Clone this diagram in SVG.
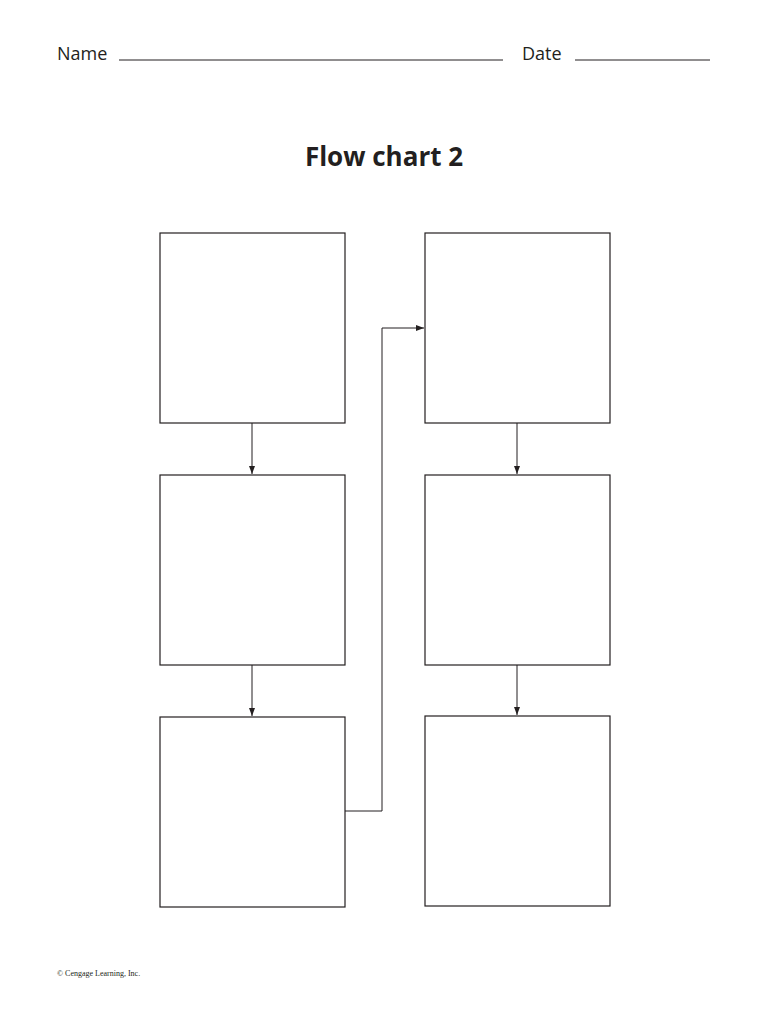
<svg xmlns="http://www.w3.org/2000/svg" width="768" height="1024" viewBox="0 0 768 1024">
<style>
.box{fill:#fff;stroke:#231f20;stroke-width:1.2}
.c{fill:none;stroke:#231f20;stroke-width:1}
.lab{font-family:"Open Sans","Liberation Sans",sans-serif;font-size:18px;fill:#231f20}
</style>
<defs><marker id="a" markerWidth="8" markerHeight="8" refX="8" refY="4" orient="auto" markerUnits="userSpaceOnUse"><path d="M0,1 L8,4 L0,7 Z" fill="#231f20"/></marker></defs>
<rect width="768" height="1024" fill="#fff"/>
<text class="lab" x="57" y="60">Name</text>
<line x1="119" y1="60" x2="503" y2="60" stroke="#231f20"/>
<text class="lab" x="522" y="60">Date</text>
<line x1="575" y1="60" x2="710" y2="60" stroke="#231f20"/>
<text x="384" y="166" text-anchor="middle" font-family="Open Sans,Liberation Sans,sans-serif" font-weight="bold" font-size="26" fill="#231f20">Flow chart 2</text>
<g id="n1"><rect class="box" x="160" y="233" width="185" height="190"/></g>
<g id="n2"><rect class="box" x="160" y="475" width="185" height="190"/></g>
<g id="n3"><rect class="box" x="160" y="717" width="185" height="190"/></g>
<g id="n4"><rect class="box" x="425" y="233" width="185" height="190"/></g>
<g id="n5"><rect class="box" x="425" y="475" width="185" height="190"/></g>
<g id="n6"><rect class="box" x="425" y="716" width="185" height="190"/></g>
<g id="connectors">
<line class="c" x1="252" y1="423" x2="252" y2="474" marker-end="url(#a)"/>
<line class="c" x1="252" y1="665" x2="252" y2="716" marker-end="url(#a)"/>
<polyline class="c" points="345,811 382,811 382,328 424,328" marker-end="url(#a)"/>
<line class="c" x1="517" y1="423" x2="517" y2="474" marker-end="url(#a)"/>
<line class="c" x1="517" y1="665" x2="517" y2="715" marker-end="url(#a)"/>
</g>
<text x="57" y="976" font-family="Liberation Serif,serif" font-size="8" fill="#231f20">© Cengage Learning, Inc.</text>
</svg>
